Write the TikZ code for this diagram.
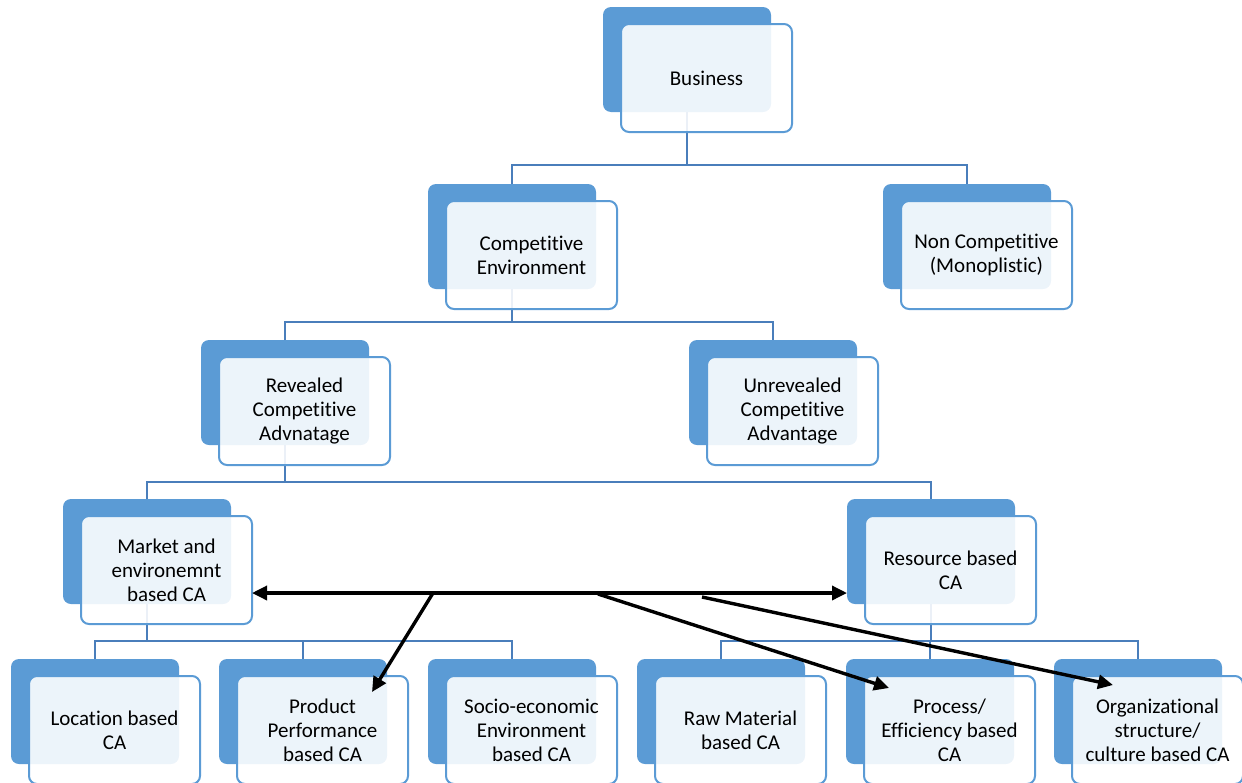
\documentclass[tikz,border=0pt]{standalone}
\usepackage{fontspec}
\setmainfont{Carlito}[Ligatures=NoCommon]
\usetikzlibrary{arrows.meta,calc}
\definecolor{bk}{HTML}{5B9BD5}
\definecolor{cn}{HTML}{4A7EBB}
\begin{document}
\begin{tikzpicture}[x=1pt,y=-1pt,
 backbox/.style={fill=bk, draw=none, rounded corners=8pt, minimum width=168pt, minimum height=105pt, anchor=north west, inner sep=0pt, outer sep=0pt},
 frontbox/.style={fill=white, fill opacity=0.89, text opacity=1, draw=bk, line width=2pt, rounded corners=8pt, minimum width=171pt, minimum height=108pt, anchor=north west, align=center, font=\fontsize{21}{24}\selectfont, inner sep=2pt, outer sep=0pt},
 conn/.style={draw=cn, line width=2pt},
 tip/.tip={Triangle[length=15pt,width=14pt]},
 arr/.style={line width=3.4pt, -tip},
]
\useasboundingbox (0,0) rectangle (1242,782);
\clip (0,0) rectangle (1242,782);
% back boxes
\node[backbox] (biz-b) at (603,7) {};
\node[backbox] (comp-b) at (428,184) {};
\node[backbox] (noncomp-b) at (883,184) {};
\node[backbox] (rev-b) at (201,340) {};
\node[backbox] (unrev-b) at (689,340) {};
\node[backbox] (market-b) at (63,499) {};
\node[backbox] (res-b) at (847,499) {};
\node[backbox] (loc-b) at (11,659) {};
\node[backbox] (prod-b) at (219,659) {};
\node[backbox] (socio-b) at (428,659) {};
\node[backbox] (raw-b) at (637,659) {};
\node[backbox] (proc-b) at (846,659) {};
\node[backbox] (org-b) at (1054,659) {};
% connectors
\coordinate (l1) at (0,165);
\coordinate (l2) at (0,322);
\coordinate (l3) at (0,482);
\coordinate (l4) at (0,641);
\draw[conn] (biz-b.south) -- (biz-b.south |- l1);
\draw[conn] (comp-b.north) |- (noncomp-b.north |- l1) -- (noncomp-b.north);
\draw[conn] (comp-b.south) -- (comp-b.south |- l2);
\draw[conn] (rev-b.north) |- (unrev-b.north |- l2) -- (unrev-b.north);
\draw[conn] (rev-b.south) -- (rev-b.south |- l3);
\draw[conn] (market-b.north) |- (res-b.north |- l3) -- (res-b.north);
\draw[conn] (market-b.south) -- (market-b.south |- l4);
\draw[conn] (loc-b.north) |- (socio-b.north |- l4) -- (socio-b.north);
\draw[conn] (prod-b.north) -- (prod-b.north |- l4);
\draw[conn] (res-b.south) -- (res-b.south |- l4);
\draw[conn] (raw-b.north) |- (org-b.north |- l4) -- (org-b.north);
\draw[conn] (proc-b.north) -- (proc-b.north |- l4);
% front boxes
\node[frontbox] (biz) at ($(biz-b.north west)+(18,17)$) {Business};
\node[frontbox] (comp) at ($(comp-b.north west)+(18,17)$) {Competitive\\Environment};
\node[frontbox] (noncomp) at ($(noncomp-b.north west)+(18,17)$) {Non Competitive\\(Monoplistic)};
\node[frontbox] (rev) at ($(rev-b.north west)+(18,17)$) {Revealed\\Competitive\\Advnatage};
\node[frontbox] (unrev) at ($(unrev-b.north west)+(18,17)$) {Unrevealed\\Competitive\\Advantage};
\node[frontbox] (market) at ($(market-b.north west)+(18,17)$) {Market and\\environemnt\\based CA};
\node[frontbox] (res) at ($(res-b.north west)+(18,17)$) {Resource based\\CA};
\node[frontbox] (loc) at ($(loc-b.north west)+(18,17)$) {Location based\\CA};
\node[frontbox] (prod) at ($(prod-b.north west)+(18,17)$) {Product\\Performance\\based CA};
\node[frontbox] (socio) at ($(socio-b.north west)+(18,17)$) {Socio-economic\\Environment\\based CA};
\node[frontbox] (raw) at ($(raw-b.north west)+(18,17)$) {Raw Material\\based CA};
\node[frontbox] (proc) at ($(proc-b.north west)+(18,17)$) {Process/\\Efficiency based\\CA};
\node[frontbox] (org) at ($(org-b.north west)+(18,17)$) {Organizational\\structure/\\culture based CA};
% arrows
\coordinate (h) at (0,593);
\coordinate (j1) at (433,593);
\coordinate (j2) at (598,594);
\coordinate (j3) at (702,597);
\draw[line width=3.4pt, tip-tip] (market.east |- h) -- (res-b.west |- h);
\draw[arr] (j1) -- ($(prod.north east)+(-36,16)$);
\draw[arr] (j2) -- ($(proc.north west)+(25,12)$);
\draw[arr] (j3) -- ($(org.north west)+(41,9)$);
\end{tikzpicture}
\end{document}
